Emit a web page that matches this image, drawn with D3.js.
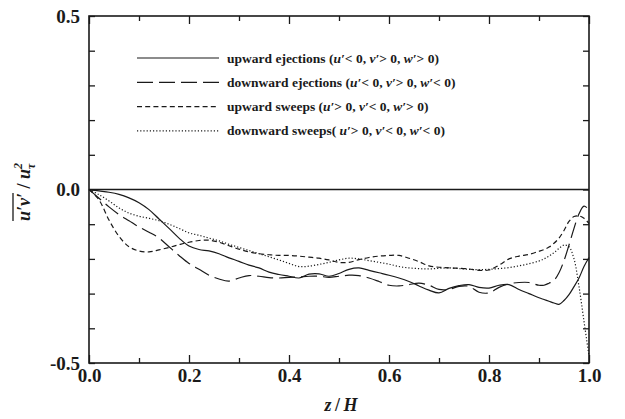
<!DOCTYPE html>
<html>
<head>
<meta charset="utf-8">
<script src="https://cdn.jsdelivr.net/npm/d3@7/dist/d3.min.js"></script>
<style>
  html, body { margin: 0; padding: 0; background: #fff; }
  svg { display: block; }
  text { font-family: "Liberation Serif", "Times New Roman", serif; font-weight: bold; fill: #1a1a1a; }
</style>
</head>
<body>
<svg id="chart" width="625" height="419"></svg>
<script>
// ---------- data ----------
const zValues = [0,0.02,0.04,0.06,0.08,0.10,0.12,0.14,0.16,0.18,0.20,0.22,0.24,0.26,0.28,0.30,0.32,0.34,0.36,0.38,0.40,0.42,0.44,0.46,0.48,0.50,0.52,0.54,0.56,0.58,0.60,0.62,0.64,0.66,0.68,0.70,0.72,0.74,0.76,0.78,0.80,0.82,0.84,0.86,0.88,0.90,0.91,0.92,0.93,0.94,0.95,0.96,0.97,0.98,0.99,1.00];

const upwardEjections = [0,-0.004,-0.008,-0.014,-0.024,-0.038,-0.058,-0.085,-0.112,-0.14,-0.163,-0.173,-0.177,-0.185,-0.197,-0.207,-0.218,-0.226,-0.238,-0.245,-0.25,-0.255,-0.244,-0.243,-0.25,-0.242,-0.23,-0.226,-0.233,-0.24,-0.247,-0.255,-0.265,-0.278,-0.29,-0.298,-0.285,-0.277,-0.274,-0.282,-0.284,-0.276,-0.274,-0.288,-0.3,-0.312,-0.317,-0.322,-0.327,-0.331,-0.32,-0.303,-0.28,-0.255,-0.222,-0.196];

const downwardEjections = [0,-0.025,-0.05,-0.072,-0.09,-0.108,-0.123,-0.14,-0.165,-0.19,-0.213,-0.23,-0.247,-0.258,-0.264,-0.255,-0.248,-0.25,-0.254,-0.255,-0.253,-0.252,-0.25,-0.25,-0.253,-0.25,-0.247,-0.248,-0.255,-0.265,-0.276,-0.278,-0.274,-0.27,-0.276,-0.288,-0.288,-0.279,-0.279,-0.296,-0.298,-0.282,-0.272,-0.268,-0.268,-0.276,-0.276,-0.27,-0.262,-0.24,-0.205,-0.16,-0.112,-0.07,-0.048,-0.058];

const upwardSweeps = [0,-0.03,-0.088,-0.135,-0.165,-0.177,-0.18,-0.174,-0.167,-0.159,-0.152,-0.147,-0.146,-0.152,-0.162,-0.172,-0.18,-0.185,-0.188,-0.19,-0.19,-0.192,-0.195,-0.198,-0.203,-0.21,-0.21,-0.202,-0.196,-0.192,-0.19,-0.19,-0.198,-0.208,-0.22,-0.224,-0.226,-0.227,-0.229,-0.233,-0.232,-0.218,-0.2,-0.192,-0.187,-0.178,-0.173,-0.166,-0.155,-0.14,-0.118,-0.092,-0.078,-0.076,-0.083,-0.098];

const downwardSweeps = [0,-0.015,-0.033,-0.053,-0.068,-0.077,-0.083,-0.09,-0.1,-0.112,-0.125,-0.132,-0.14,-0.148,-0.158,-0.167,-0.176,-0.185,-0.194,-0.203,-0.213,-0.222,-0.221,-0.216,-0.21,-0.203,-0.198,-0.2,-0.205,-0.21,-0.215,-0.222,-0.226,-0.228,-0.229,-0.227,-0.226,-0.228,-0.23,-0.231,-0.23,-0.228,-0.225,-0.22,-0.214,-0.206,-0.2,-0.192,-0.182,-0.17,-0.16,-0.165,-0.2,-0.28,-0.38,-0.48];

const seriesNames = [
  "upward ejections (u′< 0, v′> 0, w′> 0)",
  "downward ejections (u′< 0, v′> 0, w′< 0)",
  "upward sweeps (u′> 0, v′< 0, w′> 0)",
  "downward sweeps( u′> 0, v′< 0, w′< 0)"
];
const seriesValues = [upwardEjections, downwardEjections, upwardSweeps, downwardSweeps];
const dashStyles = ["none", "16,6", "5,3.2", "1.2,2"];

const xMajorTicks = [0, 0.2, 0.4, 0.6, 0.8, 1.0];
const xMinorTicks = [0.1, 0.3, 0.5, 0.7, 0.9];
const yTicks = [-0.5, -0.4, -0.3, -0.2, -0.1, 0, 0.1, 0.2, 0.3, 0.4, 0.5];
const yLabelTicks = [-0.5, 0, 0.5];

// ---------- layout ----------
const svg = d3.select("#chart");
const L = 89, R = 589, T = 16, B = 363;
const x = d3.scaleLinear().domain([0, 1]).range([L, R]);
const y = d3.scaleLinear().domain([-0.5, 0.5]).range([B, T]);
const ink = "#1a1a1a";

// axes
const fmt = d3.format(".1f");
const yFmt = v => (v < 0 ? "-" : "") + fmt(Math.abs(v));

svg.append("g").attr("transform", `translate(0,${B})`)
  .call(d3.axisBottom(x).tickValues(xMajorTicks).tickSizeInner(-8).tickSizeOuter(0).tickPadding(6).tickFormat(fmt))
  .call(g => g.select(".domain").remove())
  .call(g => g.selectAll("text").attr("font-size", 19).attr("fill", ink).attr("font-family", null));
svg.append("g").attr("transform", `translate(0,${B})`)
  .call(d3.axisBottom(x).tickValues(xMinorTicks).tickSizeInner(-5).tickSizeOuter(0).tickFormat(""))
  .call(g => g.select(".domain").remove());
svg.append("g").attr("transform", `translate(0,${T})`)
  .call(d3.axisTop(x).tickValues(xMajorTicks).tickSizeInner(-8).tickSizeOuter(0).tickFormat(""))
  .call(g => g.select(".domain").remove());
svg.append("g").attr("transform", `translate(0,${T})`)
  .call(d3.axisTop(x).tickValues(xMinorTicks).tickSizeInner(-5).tickSizeOuter(0).tickFormat(""))
  .call(g => g.select(".domain").remove());
svg.append("g").attr("transform", `translate(${L},0)`)
  .call(d3.axisLeft(y).tickValues(yTicks).tickSizeInner(-6).tickSizeOuter(0).tickPadding(9)
        .tickFormat(v => yLabelTicks.some(t => Math.abs(t - v) < 1e-9) ? yFmt(v) : ""))
  .call(g => g.select(".domain").remove())
  .call(g => g.selectAll("text").attr("font-size", 19).attr("fill", ink).attr("font-family", null));
svg.append("g").attr("transform", `translate(${R},0)`)
  .call(d3.axisRight(y).tickValues(yTicks).tickSizeInner(-6).tickSizeOuter(0).tickFormat(""))
  .call(g => g.select(".domain").remove());
svg.selectAll(".tick line").attr("stroke", ink).attr("stroke-width", 1.3);

// frame
svg.append("rect").attr("x", L).attr("y", T).attr("width", R - L).attr("height", B - T)
  .attr("fill", "none").attr("stroke", ink).attr("stroke-width", 1.6);

// zero line
svg.append("line").attr("x1", x(0)).attr("x2", x(1)).attr("y1", y(0)).attr("y2", y(0))
  .attr("stroke", ink).attr("stroke-width", 1.5);

// curves
const line = d3.line().x((d, i) => x(zValues[i])).y(d => y(d)).curve(d3.curveCatmullRom.alpha(0.5));
seriesValues.forEach((vals, k) => {
  svg.append("path").attr("d", line(vals)).attr("fill", "none")
    .attr("stroke", ink).attr("stroke-width", 1.2)
    .attr("stroke-dasharray", dashStyles[k] === "none" ? null : dashStyles[k]);
});

// legend
const legendX1 = 137, legendX2 = 219, legendTextX = 227, legendY0 = 58, legendDY = 24.3;
seriesNames.forEach((name, k) => {
  const ly = legendY0 + k * legendDY;
  svg.append("line").attr("x1", legendX1).attr("x2", legendX2).attr("y1", ly).attr("y2", ly)
    .attr("stroke", ink).attr("stroke-width", 1.2)
    .attr("stroke-dasharray", dashStyles[k] === "none" ? null : dashStyles[k]);
  const t = svg.append("text").attr("x", legendTextX).attr("y", ly + 4.5).attr("font-size", 13.5);
  name.split(/([uvw]′)/).forEach(part => {
    if (!part) return;
    const sp = t.append("tspan").text(part);
    if (/^[uvw]′$/.test(part)) sp.attr("font-style", "italic");
  });
});

// x title
const xt = svg.append("text").attr("x", 341).attr("y", 411).attr("text-anchor", "middle")
  .attr("font-size", 18).attr("font-style", "italic");
xt.append("tspan").text("z");
xt.append("tspan").attr("font-style", "normal").text("\u2009/\u2009");
xt.append("tspan").text("H");

// y title
const yt = svg.append("g").attr("transform", "translate(30,192) rotate(-90)");
const ytt = yt.append("text").attr("text-anchor", "middle").attr("font-size", 18).attr("font-style", "italic");
const bar = ytt.append("tspan").text("u′v′");
ytt.append("tspan").attr("font-style", "normal").text(" / ");
ytt.append("tspan").text("u");
ytt.append("tspan").attr("font-size", 12).attr("dy", -8).text("2");
ytt.append("tspan").attr("font-size", 12).attr("dx", -6).attr("dy", 13).text("τ");
const bb = bar.node().getBBox();
yt.append("line").attr("x1", bb.x).attr("x2", bb.x + bb.width).attr("y1", bb.y - 1).attr("y2", bb.y - 1)
  .attr("stroke", ink).attr("stroke-width", 1.3);
</script>
</body>
</html>
